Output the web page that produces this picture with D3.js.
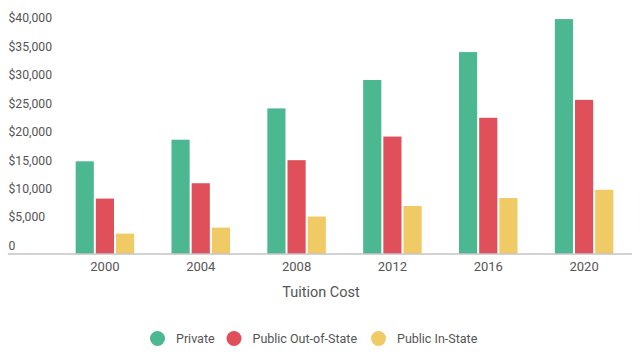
<!DOCTYPE html>
<html>
<head>
<meta charset="utf-8">
<script src="https://cdn.jsdelivr.net/npm/d3@7"></script>
<style>
  html, body { margin: 0; padding: 0; background: #fff; }
  svg { display: block; font-family: Roboto, "Noto Sans", sans-serif; }
</style>
</head>
<body>
<svg id="chart" width="640" height="355"></svg>
<script>
const years = ["2000", "2004", "2008", "2012", "2016", "2020"];
const seriesNames = ["Private", "Public Out-of-State", "Public In-State"];
const privateVals = [16200, 20000, 25500, 30500, 35400, 41200];
const outOfStateVals = [9650, 12350, 16400, 20550, 23850, 27000];
const inStateVals = [3500, 4550, 6500, 8350, 9750, 11200];
const yTicks = [0, 5000, 10000, 15000, 20000, 25000, 30000, 35000, 40000];
const colors = ["#4cb891", "#e0505a", "#f0ca64"];

const seriesVals = [privateVals, outOfStateVals, inStateVals];

const svg = d3.select("#chart");
const baseY = 253.5;
const x = d3.scaleBand().domain(years).range([57, 632]).paddingInner(0).paddingOuter(0);
const y = d3.scaleLinear().domain([0, 40000]).range([baseY, baseY - 227.6]);
const x1 = d3.scaleBand().domain(seriesNames).range([0, 58.5]).paddingInner(0.1);
const groupOffset = (x.bandwidth() - 58.5) / 2;

// bars
const g = svg.append("g");
years.forEach((yr, i) => {
  seriesNames.forEach((s, j) => {
    const v = seriesVals[j][i];
    g.append("rect")
      .attr("x", x(yr) + groupOffset + x1(s))
      .attr("y", y(v))
      .attr("width", x1.bandwidth())
      .attr("height", baseY - y(v))
      .attr("fill", colors[j]);
  });
});

// y axis labels (above their gridline positions, no gridlines drawn)
const yAxis = d3.axisLeft(y).tickValues(yTicks)
  .tickFormat(d => d === 0 ? "0" : "$" + d3.format(",")(d))
  .tickSize(0);
const ya = svg.append("g").attr("transform", "translate(8.5,-8)").call(yAxis);
ya.select(".domain").remove();
ya.selectAll("text")
  .attr("text-anchor", "start").attr("x", 0)
  .attr("fill", "#555").attr("font-size", 12.2)
  .attr("font-family", "Roboto, sans-serif");

// x axis
const xAxis = d3.axisBottom(x).tickSize(0).tickPadding(8);
const xa = svg.append("g").attr("transform", `translate(0,${baseY})`).call(xAxis);
xa.select(".domain").remove();
xa.selectAll("text").attr("fill", "#555").attr("font-size", 13)
  .attr("font-family", "Roboto, sans-serif");
svg.append("line")
  .attr("x1", 8).attr("x2", 632).attr("y1", baseY + 0.5).attr("y2", baseY + 0.5)
  .attr("stroke", "#a8a8a8").attr("stroke-width", 1.2);

// axis title
svg.append("text").attr("x", 321).attr("y", 297)
  .attr("text-anchor", "middle").attr("fill", "#555")
  .attr("font-size", 14.5).text("Tuition Cost");

// legend
const legendX = [157.5, 234, 378.5];
seriesNames.forEach((s, j) => {
  svg.append("circle").attr("cx", legendX[j]).attr("cy", 338.5).attr("r", 7.5).attr("fill", colors[j]);
  svg.append("text").attr("x", legendX[j] + 18.5).attr("y", 343)
    .attr("fill", "#555").attr("font-size", 12.5).text(s);
});
</script>
</body>
</html>
